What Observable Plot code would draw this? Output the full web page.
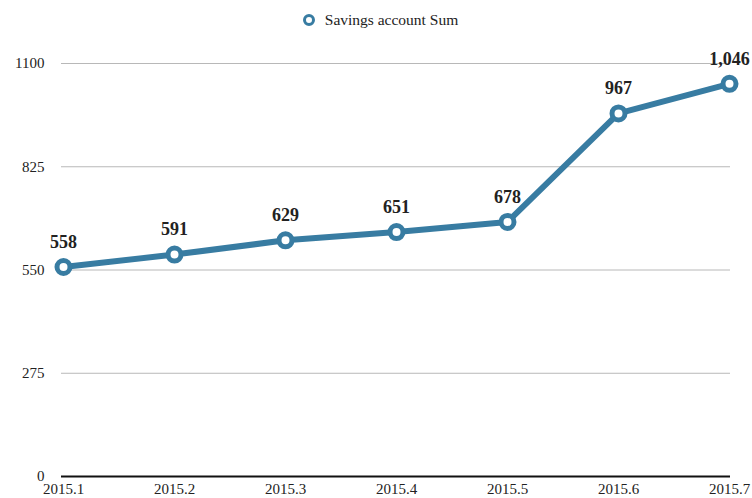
<!DOCTYPE html>
<html>
<head>
<meta charset="utf-8">
<script src="https://cdn.jsdelivr.net/npm/d3@7"></script>
<script src="https://cdn.jsdelivr.net/npm/@observablehq/plot@0.6"></script>
<style>
  html, body { margin: 0; padding: 0; background: #fff; }
  body { width: 752px; height: 498px; overflow: hidden; font-family: "Liberation Serif", "DejaVu Serif", serif; }
  #legend { height: 40px; display: flex; align-items: center; justify-content: center; font-size: 15.5px; color: #222; padding-left: 8px; box-sizing: border-box; }
  #legend svg { margin-right: 9px; }
  #chart svg { display: block; }
</style>
</head>
<body>
<div id="legend"></div>
<div id="chart"></div>
<script>
const months = ["2015.1", "2015.2", "2015.3", "2015.4", "2015.5", "2015.6", "2015.7"];
const savings = [558, 591, 629, 651, 678, 967, 1046];
const yTicks = [0, 275, 550, 825, 1100];
const seriesName = "Savings account Sum";
const color = "#387ca2";

const data = months.map((m, i) => ({month: m, value: savings[i]}));

document.getElementById("legend").innerHTML =
  `<svg width="14" height="14"><circle cx="7" cy="7" r="4.5" fill="#fff" stroke="${color}" stroke-width="3"/></svg><span>${seriesName}</span>`;

const chart = Plot.plot({
  width: 752,
  height: 458,
  marginTop: 23,
  marginBottom: 22,
  marginLeft: 61,
  marginRight: 22,
  style: {fontFamily: "'Liberation Serif', 'DejaVu Serif', serif", fontSize: "15px", color: "#222", background: "#fff"},
  x: {type: "point", domain: months, padding: 0, label: null},
  y: {domain: [0, 1100], ticks: yTicks, label: null},
  marks: [
    Plot.gridY(yTicks.filter(d => d > 0), {stroke: "#b8b8b8", strokeOpacity: 1, strokeWidth: 1}),
    Plot.axisY({ticks: yTicks, tickFormat: d3.format("d"), tickSize: 0, tickPadding: 17, fontSize: 15, label: null}),
    Plot.axisX({tickSize: 0, tickPadding: 7, fontSize: 15, label: null}),
    Plot.ruleY([0], {stroke: "#111", strokeWidth: 2}),
    Plot.line(data, {x: "month", y: "value", stroke: color, strokeWidth: 6, strokeLinejoin: "round"}),
    Plot.dot(data, {x: "month", y: "value", r: 6.5, fill: "#fff", stroke: color, strokeWidth: 5}),
    Plot.text(data, {x: "month", y: "value", text: d => d3.format(",")(d.value), dy: -25, fontSize: 18, fontWeight: "bold", fill: "#222"})
  ]
});
document.getElementById("chart").appendChild(chart);
</script>
</body>
</html>
